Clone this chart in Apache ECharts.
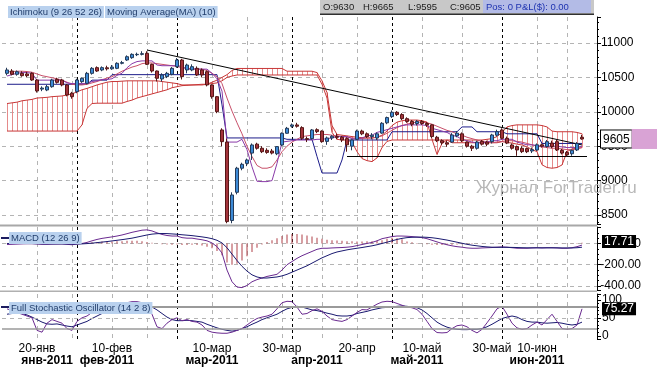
<!DOCTYPE html>
<html><head><meta charset="utf-8">
<script src="https://cdn.jsdelivr.net/npm/echarts@6/dist/echarts.min.js"></script>
<style>html,body{margin:0;padding:0;background:#fff}#c{width:657px;height:367px}</style>
</head><body><div id="c"></div>
<script>
// ---------- DATA ----------
const dates = ['12.01','13.01','14.01','17.01','18.01','19.01','20.01','21.01','24.01','25.01','26.01','27.01','28.01','31.01',
'01.02','02.02','03.02','04.02','07.02','08.02','09.02','10.02','11.02','14.02','15.02','16.02','17.02','18.02','21.02','22.02','23.02','24.02','25.02','28.02',
'01.03','02.03','03.03','04.03','07.03','08.03','09.03','10.03','11.03','14.03','15.03','16.03','17.03','18.03','21.03','22.03','23.03','24.03','25.03','28.03','29.03','30.03','31.03',
'01.04','04.04','05.04','06.04','07.04','08.04','11.04','12.04','13.04','14.04','15.04','18.04','19.04','20.04','21.04','22.04','25.04','26.04','27.04','28.04',
'02.05','03.05','04.05','05.05','06.05','09.05','10.05','11.05','12.05','13.05','16.05','17.05','18.05','19.05','20.05','23.05','24.05','25.05','26.05','27.05','30.05','31.05',
'01.06','02.06','03.06','06.06','07.06','08.06','09.06','10.06','13.06','14.06','15.06','16.06','17.06','20.06','21.06','22.06','23.06'];

// [open, high, low, close]
const ohlc = [
[10559,10640,10530,10608],[10593,10620,10530,10545],[10545,10600,10525,10583],[10559,10590,10510,10525],[10550,10580,10505,10525],
[10559,10575,10450,10462],[10462,10475,10280,10303],[10330,10370,10300,10345],[10317,10390,10300,10365],[10365,10480,10350,10462],
[10472,10495,10410,10428],[10462,10480,10370,10390],[10390,10405,10225,10244],[10270,10290,10190,10220],
[10293,10480,10270,10462],[10438,10500,10420,10487],[10414,10580,10400,10559],[10559,10650,10540,10632],[10642,10660,10580,10593],
[10608,10660,10590,10642],[10640,10670,10600,10625],[10625,10680,10610,10650],[10632,10720,10620,10705],[10705,10740,10690,10715],
[10753,10820,10740,10801],[10787,10850,10770,10835],[10830,10860,10810,10835],[10835,10880,10820,10845],[10850,10880,10680,10690],
[10690,10700,10570,10593],[10593,10600,10440,10487],[10477,10560,10440,10535],[10511,10580,10490,10559],[10545,10650,10530,10632],
[10656,10780,10640,10753],[10753,10770,10470,10511],[10608,10700,10560,10680],[10608,10690,10590,10656],[10632,10660,10520,10535],
[10608,10630,10500,10535],[10583,10600,10370,10390],[10390,10400,10190,10220],[10220,10230,9980,10002],[9736,9760,9500,9566],
[9560,9610,8380,8404],[8420,8830,8380,8791],[8830,9200,8800,9180],[9180,9260,9150,9237],[9250,9320,9210,9300],
[9400,9540,9300,9518],[9530,9550,9450,9470],[9470,9500,9400,9420],[9440,9470,9390,9410],[9430,9460,9380,9400],
[9390,9500,9370,9494],[9518,9700,9500,9688],[9688,9780,9680,9760],[9790,9830,9770,9809],[9809,9840,9770,9790],
[9770,9790,9590,9615],[9610,9640,9560,9600],[9610,9750,9600,9736],[9740,9760,9690,9712],[9720,9730,9550,9566],
[9570,9640,9520,9620],[9620,9660,9590,9645],[9640,9680,9600,9630],[9630,9650,9560,9590],[9610,9630,9420,9520],
[9500,9600,9440,9590],[9600,9740,9590,9720],[9720,9740,9660,9680],[9680,9700,9620,9640],[9640,9690,9600,9660],
[9620,9700,9590,9680],[9690,9850,9680,9833],[9840,9930,9820,9916],[9930,10020,9910,9993],[9993,10010,9940,9960],
[9960,9980,9880,9900],[9900,9920,9840,9860],[9860,9880,9790,9820],[9830,9880,9800,9860],[9860,9880,9810,9830],
[9830,9850,9780,9810],[9810,9820,9620,9640],[9630,9650,9560,9580],[9580,9600,9520,9550],[9550,9580,9490,9530],
[9560,9690,9550,9663],[9650,9720,9630,9690],[9680,9700,9560,9580],[9560,9570,9480,9500],[9500,9520,9430,9470],
[9470,9580,9450,9560],[9570,9590,9510,9530],[9560,9580,9500,9530],[9566,9680,9540,9663],[9660,9740,9640,9712],
[9736,9760,9600,9615],[9615,9640,9530,9545],[9518,9540,9450,9470],[9494,9510,9360,9445],[9470,9500,9400,9421],
[9465,9480,9400,9420],[9430,9480,9400,9450],[9445,9540,9430,9520],[9520,9540,9480,9500],[9495,9590,9480,9566],
[9545,9580,9470,9495],[9566,9590,9430,9445],[9440,9460,9380,9400],[9410,9430,9350,9375],[9390,9450,9360,9440],
[9445,9560,9430,9540],[9630,9665,9595,9605]];

const spanA = [10120,10130,10140,10160,10170,10180,10200,10205,10210,10220,
10225,10230,10245,10260,10290,10320,10340,10365,10390,10410,
10430,10440,10440,10445,10450,10450,10450,10450,10450,10450,
10450,10440,10430,10420,10410,10390,10390,10390,10390,10390,
10400,10430,10460,10500,10540,10600,10630,10630,10630,10630,
10630,10630,10630,10630,10630,10630,10590,10590,10590,10590,
10590,10590,10570,10450,10280,9800,9670,9660,9650,9640,
9630,9625,9620,9620,9630,9660,9720,9800,9850,9870,
9880,9880,9880,9870,9850,9600,9380,9540,9590,9590,
9590,9590,9590,9590,9590,9590,9600,9610,9640,9700,
9780,9800,9810,9810,9810,9810,9810,9800,9780,9720,
9710,9710,9710,9710,9700,9680];
const spanB = [9720,9720,9720,9720,9720,9720,9720,9720,9720,9720,
9720,9720,9720,9720,9720,9810,10050,10120,10125,10125,
10125,10125,10125,10125,10150,10170,10200,10220,10240,10260,
10280,10300,10320,10350,10365,10380,10385,10390,10395,10400,
10400,10410,10420,10450,10500,10520,10535,10535,10535,10535,
10535,10535,10535,10535,10535,10535,10535,10535,10535,10535,
10535,10535,10535,10400,10200,9700,9600,9590,9590,9560,
9420,9320,9290,9276,9330,9480,9570,9590,9590,9590,
9590,9590,9590,9590,9590,9590,9590,9590,9590,9550,
9550,9550,9550,9550,9550,9550,9550,9550,9550,9566,
9555,9545,9530,9518,9490,9450,9421,9230,9190,9180,
9190,9227,9420,9460,9470,9480];
const tenkan = [10520,10540,10560,10570,10570,10560,10460,10460,10460,10460,
10460,10460,10420,10410,10410,10410,10410,10440,10450,10470,
10470,10480,10530,10560,10640,10700,10730,10740,10740,10740,
10680,10670,10670,10670,10670,10660,10620,10620,10620,10620,
10620,10560,10480,10300,9560,9560,9560,9600,9450,9200,
8990,8985,8985,9000,9250,9560,9570,9580,9590,9590,
9590,9590,9600,9600,9610,9620,9640,9640,9640,9610,
9600,9620,9650,9660,9700,9720,9740,9760,9780,9800,
9810,9810,9810,9810,9800,9760,9740,9720,9700,9660,
9640,9600,9580,9560,9550,9550,9560,9580,9580,9600,
9600,9600,9560,9540,9520,9520,9510,9500,9500,9500,
9500,9490,9480,9480,9480,9500];
const kijun = [10400,10400,10400,10400,10400,10400,10400,10400,10400,10400,
10400,10400,10400,10400,10400,10400,10400,10460,10460,10460,
10460,10540,10540,10540,10540,10540,10540,10540,10540,10540,
10540,10540,10540,10540,10540,10540,10540,10540,10540,10540,
10540,10540,10540,10100,9620,9620,9620,9620,9620,9620,
9620,9620,9620,9620,9620,9620,9600,9600,9600,9600,
9600,9600,9350,9110,9110,9110,9110,9300,9590,9590,
9590,9590,9590,9590,9590,9590,9590,9710,9710,9710,
9710,9710,9710,9710,9710,9710,9710,9710,9710,9710,
9710,9780,9780,9780,9710,9710,9710,9710,9710,9710,
9680,9680,9680,9680,9680,9680,9680,9540,9540,9540,
9540,9540,9540,9540,9540,9540];
const ma10 = [10580,10585,10590,10590,10585,10575,10550,10525,10510,10495,
10480,10460,10430,10400,10390,10390,10400,10420,10440,10465,
10490,10510,10550,10590,10620,10650,10670,10700,10710,10710,
10700,10690,10680,10670,10660,10640,10630,10630,10620,10620,
10600,10560,10510,10410,10200,10010,9840,9680,9500,9350,
9220,9180,9180,9200,9300,9420,9500,9560,9600,9640,
9650,9660,9670,9670,9670,9660,9650,9640,9630,9620,
9610,9610,9620,9620,9630,9650,9690,9730,9770,9800,
9820,9840,9850,9850,9840,9820,9790,9760,9730,9710,
9680,9660,9630,9610,9590,9570,9560,9550,9560,9570,
9580,9580,9570,9560,9540,9520,9500,9490,9480,9470,
9470,9460,9450,9450,9460,9480];

const macdLine = [-10,-8,-6,-4,-2,-2,-5,-8,-8,-6,-5,-4,-8,-12,
-5,0,10,25,38,48,55,62,70,80,92,105,115,125,
128,118,100,85,75,70,70,55,50,50,42,35,25,5,-30,-90,
-250,-360,-410,-415,-395,-360,-340,-325,-310,-300,-290,-250,-200,-170,-140,-115,-95,-75,-55,-45,
-45,-42,-40,-38,-35,-30,-20,-10,0,10,25,45,55,
65,70,70,68,65,60,55,45,30,15,0,-12,-22,-30,-35,-42,-45,
-45,-42,-40,-38,-35,-32,-35,-40,-45,-45,-45,-42,-40,-42,-40,-40,-42,-45,-45,-40,-30,-15];
const macdSignal = [0,0,0,0,-1,-1,-2,-3,-4,-4,-4,-4,-5,-6,
-5,-4,-1,3,8,13,18,24,30,36,43,50,60,70,
80,88,92,94,93,90,87,82,78,74,68,62,55,45,30,5,
-40,-100,-160,-215,-260,-295,-315,-325,-325,-320,-315,-305,-290,-270,-250,-230,-210,-185,-160,-135,
-115,-95,-80,-70,-60,-52,-45,-38,-30,-22,-12,0,12,
25,38,48,55,58,60,60,58,54,48,40,32,22,12,2,-8,-16,
-22,-28,-32,-35,-36,-36,-36,-37,-38,-40,-41,-41,-41,-41,-41,-41,-41,-42,-42,-42,-40,-35];
const macdHist = [1,1,1,1,0,0,-1,-2,-2,-1,0,0,-1,-2,
3,5,8,12,15,18,18,18,20,22,25,25,25,22,
15,8,-3,-8,-10,-12,-10,-15,-15,-12,-15,-20,-30,-45,-70,-110,
-180,-200,-190,-160,-120,-80,-40,-10,15,30,50,70,85,90,90,85,75,65,55,45,
35,30,28,25,22,20,18,18,20,22,25,30,45,
55,50,40,18,12,5,-2,-8,-12,-15,-15,-14,-12,-10,-8,-6,-5,
-3,-2,-1,0,1,2,1,0,-1,-2,-2,-1,0,1,1,2,2,1,2,3,5,8];
const stochK = [75,70,65,60,55,50,15,10,35,45,
40,35,20,15,40,50,55,65,75,80,
85,80,85,88,92,95,95,92,80,60,
25,20,35,45,50,42,45,40,38,30,
15,10,8,7,7,10,15,20,30,40,
48,52,55,60,75,92,96,95,80,60,
62,70,75,68,55,45,42,40,45,55,
65,73,72,80,88,94,96,95,90,85,
80,78,73,60,40,20,9,8,9,20,
28,30,25,15,8,18,36,55,75,82,
60,35,22,18,20,30,38,30,45,60,
40,20,18,20,30,75];
const stochD = [60,62,63,62,58,52,45,38,33,32,
33,30,27,25,30,35,40,48,55,62,
70,75,78,82,85,88,90,90,88,80,
72,62,52,45,42,42,43,42,40,38,
32,27,22,18,15,13,15,20,25,32,
38,45,50,55,60,68,75,79,82,80,
76,72,70,67,63,60,56,55,55,57,
62,65,68,72,75,78,79,80,82,83,
82,80,78,72,62,50,38,30,24,20,
18,17,17,18,18,20,25,32,40,48,
52,55,52,45,40,38,38,36,35,36,
37,35,32,30,32,38];

const lastMacd = 17.71;
const lastStoch = 75.27;
const trendLine = [['21.02', 10898], ['23.06', 9518]];
const supportLine = [['18.04', 9358], ['e1', 9358]];

const grayGridDates = ['20.01','31.01','10.02','21.02','10.03','21.03','30.03','11.04','20.04','10.05','20.05','10.06','20.06'];
const monthStarts = ['01.02','01.03','01.04','02.05','01.06'];
const dayLabels = {'20.01':'20-янв','10.02':'10-фев','10.03':'10-мар','30.03':'30-мар','20.04':'20-апр','10.05':'10-май','30.05':'30-май','10.06':'10-июн'};
const monthLabels = {'24.01':'янв-2011','09.02':'фев-2011','10.03':'мар-2011','08.04':'апр-2011','09.05':'май-2011','10.06':'июн-2011'};

// ---------- CHART ----------
const FONT = 'Liberation Sans, Arial, sans-serif';
const cats = ['s0'].concat(dates, ['e1','e2','e3']);
const pad = a => ['-'].concat(a);
const last = ohlc[ohlc.length - 1];
const CLEAR = 'rgba(0,0,0,0)';

const grids = [
  {left:2, right:60, top:17, height:207},
  {left:2, right:60, top:227, height:63},
  {left:2, right:60, top:294, height:46}
];

const xAxes = [];
for (let g = 0; g < 3; g++) {
  xAxes.push({
    type:'category', gridIndex:g, data:cats, boundaryGap:false, position:'bottom',
    axisLine:{show:false}, axisTick:{show:false},
    axisLabel: g === 2 ? {
      show:true, interval:(i, v) => !!dayLabels[v], formatter: v => dayLabels[v] || '',
      color:'#000', fontSize:12, fontFamily:FONT, margin:4
    } : {show:false},
    splitLine:{show:true, interval:(i, v) => grayGridDates.includes(v), lineStyle:{color:'#b4b4b4', type:[4,4], width:1}}
  });
  xAxes.push({
    type:'category', gridIndex:g, data:cats, boundaryGap:false, position:'top',
    axisLine:{show:false}, axisTick:{show:false}, axisLabel:{show:false},
    splitLine:{show:true, interval:(i, v) => monthStarts.includes(v), lineStyle:{color:'#000', type:[3,3], width:1}}
  });
}
xAxes.push({
  type:'category', gridIndex:2, data:cats, boundaryGap:false, position:'bottom', offset:12,
  axisLine:{show:false}, axisTick:{show:false}, splitLine:{show:false},
  axisLabel:{show:true, interval:(i, v) => !!monthLabels[v], formatter: v => monthLabels[v] || '',
    color:'#000', fontSize:12, fontWeight:'bold', fontFamily:FONT, margin:4}
});

const axisCommon = {
  position:'right',
  axisLine:{show:true, lineStyle:{color:'#000', width:1}},
  axisTick:{show:true, length:4, lineStyle:{color:'#000'}},
  minorTick:{show:true, splitNumber:5, length:2, lineStyle:{color:'#000'}}
};
const yAxes = [
  Object.assign({}, axisCommon, {
    type:'value', gridIndex:0, min:8369, max:11378, splitNumber:6,
    axisLabel:{color:'#000', fontSize:12, fontFamily:FONT, margin:4, showMinLabel:false, showMaxLabel:false,
      formatter: v => (v % 500 === 0 ? String(v) : '')},
    splitLine:{show:true, showMinLine:false, showMaxLine:false, lineStyle:{color:'#b4b4b4', type:[4,4]}}
  }),
  Object.assign({}, axisCommon, {
    type:'value', gridIndex:1, min:-437.6, max:155, splitNumber:3,
    minorTick:{show:true, splitNumber:4, length:2, lineStyle:{color:'#000'}},
    axisLabel:{color:'#000', fontSize:12, fontFamily:FONT, margin:44, align:'right', showMinLabel:false, showMaxLabel:false,
      formatter: v => (v % 200 === 0 ? v.toFixed(2) : '')},
    splitLine:{show:true, showMinLine:false, showMaxLine:false, lineStyle:{color:'#b4b4b4', type:[4,4]}}
  }),
  Object.assign({}, axisCommon, {
    type:'value', gridIndex:2, min:-9, max:116.3, splitNumber:2,
    axisLabel:{color:'#000', fontSize:12, fontFamily:FONT, margin:5, showMinLabel:false, showMaxLabel:false,
      formatter: v => (v % 50 === 0 ? String(v) : '')},
    splitLine:{show:false}
  })
];

function lineSeries(data, xi, yi, color, z, extra) {
  return Object.assign({
    type:'line', xAxisIndex:xi, yAxisIndex:yi, data:pad(data), showSymbol:false, symbol:'none',
    lineStyle:{color:color, width:1}, z:z, silent:true
  }, extra || {});
}

const boxLabel = (val) => ({
  show:true, position:'end', distance:5, formatter: String(val),
  color:'#fff', backgroundColor:'#000', padding:[1,2,0,2], fontSize:12, fontFamily:FONT, opacity:1
});

const series = [
  {
    type:'custom', xAxisIndex:0, yAxisIndex:0, z:1, silent:true, clip:true,
    data: spanA.map((a, i) => [i + 1, a, spanB[i]]),
    encode:{x:0, y:[1,2]},
    renderItem: (params, api) => {
      const p1 = api.coord([api.value(0), api.value(1)]);
      const p2 = api.coord([api.value(0), api.value(2)]);
      const x = Math.round(p1[0]) + 0.5;
      return {type:'line', shape:{x1:x, y1:p1[1], x2:x, y2:p2[1]}, style:{stroke:'#e58a8a', lineWidth:1}};
    }
  },
  lineSeries(spanA, 0, 0, '#c83838', 2),
  lineSeries(spanB, 0, 0, '#c83838', 2),
  lineSeries(kijun, 0, 0, '#1c1c8a', 3),
  lineSeries(ma10, 0, 0, '#c8506a', 3),
  lineSeries(tenkan, 0, 0, '#8a3aa8', 3),
  {
    type:'candlestick', xAxisIndex:0, yAxisIndex:0, z:5, silent:true, barWidth:4,
    data: [['-','-','-','-']].concat(ohlc.map(r => [r[0], r[3], r[2], r[1]])),
    itemStyle:{color:'#3d8ad6', color0:'#a3333b', borderColor:'#243a58', borderColor0:'#561616', borderWidth:1},
    markLine:{
      silent:true, symbol:['none','none'], animation:false,
      label:{show:false},
      data:[
        [{coord:trendLine[0], lineStyle:{color:'#000', width:1, type:'solid'}}, {coord:trendLine[1]}],
        [{coord:supportLine[0], lineStyle:{color:'#000', width:1, type:'solid'}}, {coord:supportLine[1]}],
        {yAxis:last[3], lineStyle:{color:CLEAR, width:1, opacity:1},
         label:{show:true, position:'end', distance:4, opacity:1,
           formatter: p => '{a|' + p.value + '}{b| }',
           rich:{
             a:{color:'#000', backgroundColor:'#fff', borderColor:'#000', borderWidth:1, padding:[3,2,2,2], fontSize:12, fontFamily:FONT, lineHeight:13},
             b:{backgroundColor:'#d9a3d5', width:28, height:20}
           }}}
      ]
    }
  },
  {
    type:'bar', xAxisIndex:2, yAxisIndex:1, data:pad(macdHist), barWidth:1, silent:true, z:2,
    itemStyle:{color:'#b04048'}
  },
  lineSeries(macdLine, 2, 1, '#6a2a90', 3, {
    markLine:{silent:true, symbol:['none','none'], animation:false,
      data:[{yAxis:lastMacd, lineStyle:{color:CLEAR, width:1, opacity:1}, label:boxLabel(lastMacd)}]}
  }),
  lineSeries(macdSignal, 2, 1, '#1a1a70', 3),
  lineSeries(stochD, 4, 2, '#1a1a70', 3, {
    markLine:{silent:true, symbol:['none','none'], animation:false, label:{show:false},
      data:[
        {yAxis:80, lineStyle:{color:'#9a9a9a', width:2, type:'solid'}},
        {yAxis:20, lineStyle:{color:'#9a9a9a', width:1.5, type:'solid'}},
        {yAxis:50, lineStyle:{color:'#b4b4b4', width:1, type:[4,4]}}
      ]}
  }),
  lineSeries(stochK, 4, 2, '#6a2a90', 4, {
    markLine:{silent:true, symbol:['none','none'], animation:false,
      data:[{yAxis:lastStoch, lineStyle:{color:CLEAR, width:1, opacity:1}, label:boxLabel(lastStoch)}]}
  })
];

const hdrFont = '9.5px ' + FONT;
const graphic = [
  {type:'rect', z:50, shape:{x:0, y:224.5, width:597, height:2}, style:{fill:'#a8a8a8'}},
  {type:'rect', z:50, shape:{x:0, y:290.5, width:597, height:1.5}, style:{fill:'#b0b0b0'}},
  {type:'rect', z:50, shape:{x:320, y:0, width:274, height:14}, style:{fill:'#c8c8c8'}},
  {type:'rect', z:50, shape:{x:483, y:0, width:108, height:13}, style:{fill:'#b3bbe6'}},
  {type:'rect', z:50, shape:{x:320, y:13.5, width:274, height:1.5}, style:{fill:'#303030'}},
  {type:'text', z:60, left:323, top:2, style:{text:'O:' + last[0], font:hdrFont, fill:'#202020'}},
  {type:'text', z:60, left:363, top:2, style:{text:'H:' + last[1], font:hdrFont, fill:'#202020'}},
  {type:'text', z:60, left:408, top:2, style:{text:'L:' + last[2], font:hdrFont, fill:'#202020'}},
  {type:'text', z:60, left:450, top:2, style:{text:'C:' + last[3], font:hdrFont, fill:'#202020'}},
  {type:'text', z:60, left:486, top:2, style:{text:'Pos: 0 P&L($): 0.00', font:hdrFont, fill:'#1f33b0'}},
  {type:'text', z:60, left:8, top:6, style:{text:'Ichimoku (9 26 52 26)', font:hdrFont, fill:'#213d6b', backgroundColor:'#b9d1ee', padding:[1,2,1,2]}},
  {type:'text', z:60, left:105, top:6, style:{text:'Moving Average(MA) (10)', font:hdrFont, fill:'#213d6b', backgroundColor:'#b9d1ee', padding:[1,2,1,2]}},
  {type:'line', z:60, shape:{x1:1, y1:238, x2:9, y2:238}, style:{stroke:'#1c1c60', lineWidth:2}},
  {type:'text', z:60, left:9, top:232, style:{text:'MACD (12 26 9)', font:hdrFont, fill:'#213d6b', backgroundColor:'#b9d1ee', padding:[1,2,1,2]}},
  {type:'line', z:60, shape:{x1:1, y1:307, x2:9, y2:307}, style:{stroke:'#1c1c60', lineWidth:2}},
  {type:'text', z:60, left:9, top:302, style:{text:'Full Stochastic Oscillator (14 2 8)', font:hdrFont, fill:'#213d6b', backgroundColor:'#b9d1ee', padding:[1,2,1,2]}},
  {type:'text', z:40, left:476, top:180, style:{text:'Журнал ForTrader.ru', font:'17px ' + FONT, fill:'#b8b8b8'}}
];

const chart = echarts.init(document.getElementById('c'), null, {renderer:'canvas'});
chart.setOption({
  animation:false,
  backgroundColor:'#fff',
  grid:grids,
  xAxis:xAxes,
  yAxis:yAxes,
  series:series,
  graphic:graphic
});
</script>
</body></html>
